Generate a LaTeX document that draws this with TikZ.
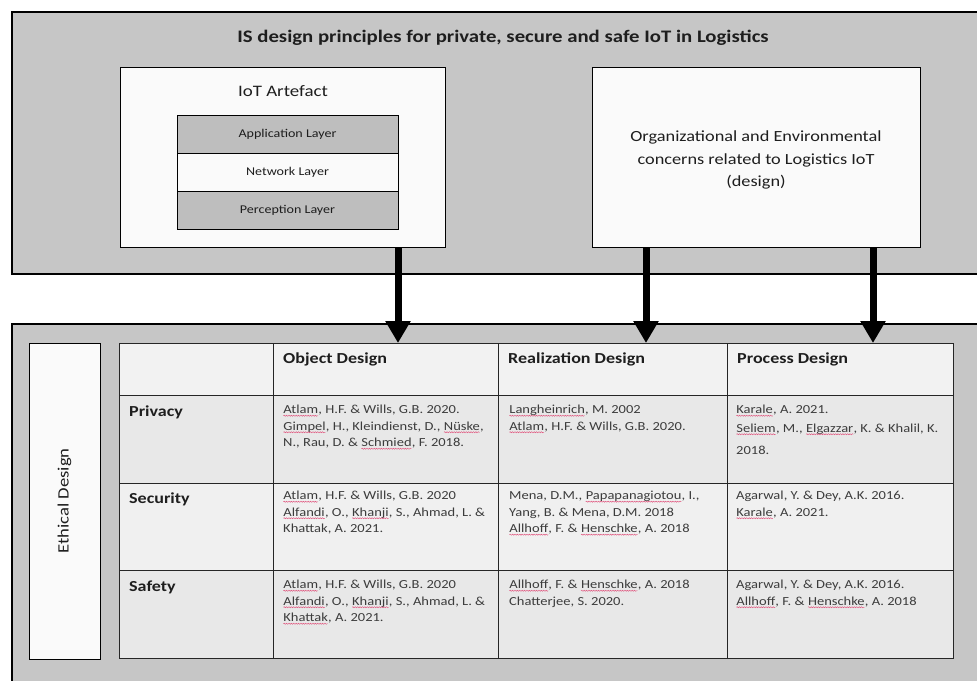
\documentclass[tikz,border=0pt]{standalone}
\usepackage{fontspec}
\setmainfont{Carlito}[FakeStretch=1.18]
\usetikzlibrary{arrows.meta,calc,decorations.pathmorphing}

\definecolor{panel}{HTML}{C6C6C6}
\definecolor{boxwhite}{HTML}{FAFAFA}
\definecolor{layergray}{HTML}{BEBEBE}
\definecolor{hdrfill}{HTML}{F2F2F2}
\definecolor{rowA}{HTML}{E8E8E8}
\definecolor{rowB}{HTML}{F0F0F0}
\definecolor{ink}{HTML}{3C3C3C}
\definecolor{darkink}{HTML}{1E1E1E}
\definecolor{squig}{HTML}{E0507A}

\newcommand{\titlefont}{\bfseries\fontsize{17.6}{20}\selectfont}
\newcommand{\labelfont}{\fontsize{16}{18}\selectfont}
\newcommand{\orgfont}{\fontsize{15.5}{22.5}\selectfont}
\newcommand{\layerfont}{\fontsize{11.9}{13}\selectfont}
\newcommand{\headfont}{\bfseries\fontsize{15.3}{18}\selectfont}
\newcommand{\cellfont}{\fontsize{12.3}{16.5}\selectfont}

% a word with a wavy spell-check mark beneath it
\newcommand{\spell}[1]{\tikz[baseline=(sw.base), x=1pt, y=1pt]{%
  \node[inner sep=0pt, outer sep=0pt, font=\cellfont, text=ink] (sw) {#1};%
  \draw[squig, line width=0.45pt, decorate,
    decoration={snake, amplitude=0.55pt, segment length=2.4pt}]
    ([yshift=-2pt]sw.base west) -- ([yshift=-2pt]sw.base east);}}

\tikzset{
  panelbox/.style={draw=black, line width=1.6pt, fill=panel, inner sep=0, outer sep=0, anchor=north west},
  whitebox/.style={draw=black, line width=1pt, fill=boxwhite, inner sep=0, outer sep=0, anchor=north west},
  layerbox/.style={draw=black, line width=0.9pt, inner sep=0, outer sep=0, anchor=north west,
    minimum width=221, minimum height=38, font=\layerfont, text=darkink},
  cell/.style={draw=black!85, line width=0.9pt, inner sep=0, outer sep=0, anchor=north west},
  headtext/.style={anchor=north west, inner sep=0, font=\headfont, text=darkink},
  celltext/.style={anchor=north west, inner sep=0, align=left, font=\cellfont, text=ink},
  flow/.style={line width=7pt, -{Triangle[width=24pt,length=22pt]}},
}

\begin{document}
\begin{tikzpicture}[x=1pt, y=-1pt]
\useasboundingbox (0,0) rectangle (977,680);
\clip (0,0) rectangle (977,680);
\fill[white] (0,0) rectangle (977,680);

% upper panel: the IS design principles
\node[panelbox, minimum width=985, minimum height=262] (top) at (12,12) {};
\node[font=\titlefont, text=darkink] (title) at (503,38)
  {IS design principles for private, secure and safe IoT in Logistics};

% IoT artefact with its three layers
\node[whitebox, minimum width=325, minimum height=180] (art) at (120,67) {};
\node[font=\labelfont, text=darkink] (artlabel) at (283,91) {IoT Artefact};
\node[layerbox, fill=layergray] (app) at (177,115) {Application Layer};
\node[layerbox, fill=boxwhite] (net) at (177,153) {Network Layer};
\node[layerbox, fill=layergray] (per) at (177,191) {Perception Layer};

% organizational and environmental concerns
\node[whitebox, minimum width=328, minimum height=180] (org) at (592,67) {};
\node[font=\orgfont, align=center, text=darkink] (orgtext) at (756,160)
  {Organizational and Environmental\\concerns related to Logistics IoT\\(design)};

% lower panel: ethical design table
\node[panelbox, minimum width=985, minimum height=380] (bottom) at (12,324) {};
\node[draw=black, line width=0.9pt, fill=boxwhite, inner sep=0, outer sep=0, anchor=north west,
  minimum width=71, minimum height=316] (ethic) at (29,343) {};
\node[rotate=90, font=\fontsize{15.8}{18}\selectfont, text=darkink] (ethiclabel) at (ethic.center) {Ethical Design};

% table grid
\foreach \c/\x/\w in {0/119/154,1/273/225,2/498/229,3/727/226}
  \foreach \r/\y/\h/\f in {0/343/52/hdrfill,1/395/88/rowA,2/483/87/rowB,3/570/88/rowA}
    \node[cell, fill=\f, minimum width=\w, minimum height=\h] (c\r\c) at (\x,\y) {};

% column headings
\node[headtext] (h1) at ($(c01.north west)+(10,9.5)$) {Object Design};
\node[headtext] (h2) at ($(c02.north west)+(10,9.5)$) {Realization Design};
\node[headtext] (h3) at ($(c03.north west)+(10,9.5)$) {Process Design};

% row headings
\node[headtext] (r1) at ($(c10.north west)+(10,10.5)$) {Privacy};
\node[headtext] (r2) at ($(c20.north west)+(10,9.5)$) {Security};
\node[headtext] (r3) at ($(c30.north west)+(10,10.5)$) {Safety};

% references
\node[celltext] (t11) at ($(c11.north west)+(10,10)$)
  {\spell{Atlam}, H.F. \& Wills, G.B. 2020.\\\spell{Gimpel}, H., Kleindienst, D., \spell{Nüske},\\N., Rau, D. \& \spell{Schmied}, F. 2018.};
\node[celltext] (t12) at ($(c12.north west)+(11,10)$)
  {\spell{Langheinrich}, M. 2002\\\spell{Atlam}, H.F. \& Wills, G.B. 2020.};
\node[celltext] (t13) at ($(c13.north west)+(9,10)$)
  {\spell{Karale}, A. 2021.\\[2pt]\spell{Seliem}, M., \spell{Elgazzar}, K. \& Khalil, K.\\[6pt]2018.};

\node[celltext] (t21) at ($(c21.north west)+(10,8)$)
  {\spell{Atlam}, H.F. \& Wills, G.B. 2020\\\spell{Alfandi}, O., \spell{Khanji}, S., Ahmad, L. \&\\Khattak, A. 2021.};
\node[celltext] (t22) at ($(c22.north west)+(11,8)$)
  {Mena, D.M., \spell{Papapanagiotou}, I.,\\Yang, B. \& Mena, D.M. 2018\\\spell{Allhoff}, F. \& \spell{Henschke}, A. 2018};
\node[celltext] (t23) at ($(c23.north west)+(9,8)$)
  {Agarwal, Y. \& Dey, A.K. 2016.\\\spell{Karale}, A. 2021.};

\node[celltext] (t31) at ($(c31.north west)+(10,10)$)
  {\spell{Atlam}, H.F. \& Wills, G.B. 2020\\\spell{Alfandi}, O., \spell{Khanji}, S., Ahmad, L. \&\\\spell{Khattak}, A. 2021.};
\node[celltext] (t32) at ($(c32.north west)+(11,10)$)
  {\spell{Allhoff}, F. \& \spell{Henschke}, A. 2018\\Chatterjee, S. 2020.};
\node[celltext] (t33) at ($(c33.north west)+(9,10)$)
  {Agarwal, Y. \& Dey, A.K. 2016.\\\spell{Allhoff}, F. \& \spell{Henschke}, A. 2018};

% flows from the upper panel into the design columns
\coordinate (oa) at ($(org.south west)+(54,0)$);
\coordinate (ob) at ($(org.south west)+(281,0)$);
\draw[flow] (art.south -| app.east) -- (c01.north -| app.east);
\draw[flow] (oa) -- (oa |- c02.north);
\draw[flow] (ob) -- (ob |- c03.north);
\end{tikzpicture}
\end{document}
